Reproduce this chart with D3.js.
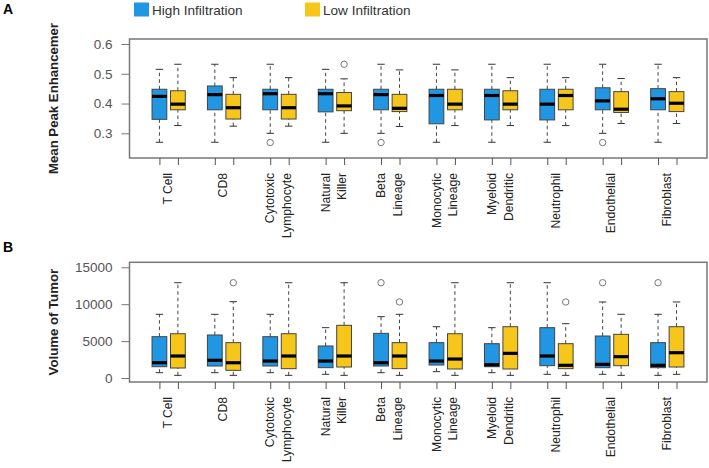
<!DOCTYPE html>
<html>
<head>
<meta charset="utf-8">
<script src="https://cdn.jsdelivr.net/npm/d3@7"></script>
<style>
  body { margin: 0; background: #fff; }
  text { font-family: "Liberation Sans", Arial, sans-serif; }
</style>
</head>
<body>
<div class="container"></div>
<script>
// data: [lower whisker, q1, median, q3, upper whisker]
const groups = ['T Cell', 'CD8', 'Cytotoxic\nLymphocyte', 'Natural\nKiller', 'Beta\nLineage',
                'Monocytic\nLineage', 'Myeloid\nDendritic', 'Neutrophil', 'Endothelial', 'Fibroblast'];
const seriesNames = ['High Infiltration', 'Low Infiltration'];

const enhancerHigh = [
  [0.270, 0.347, 0.424, 0.448, 0.515],
  [0.270, 0.379, 0.430, 0.459, 0.532],
  [0.300, 0.379, 0.433, 0.448, 0.532],
  [0.270, 0.372, 0.433, 0.448, 0.515],
  [0.300, 0.379, 0.430, 0.448, 0.532],
  [0.270, 0.332, 0.427, 0.448, 0.532],
  [0.270, 0.345, 0.427, 0.448, 0.532],
  [0.270, 0.345, 0.398, 0.448, 0.532],
  [0.300, 0.379, 0.409, 0.453, 0.532],
  [0.270, 0.379, 0.416, 0.450, 0.532]
];
const enhancerHighOut = [[], [], [0.269], [], [0.269], [], [], [], [0.269], []];
const enhancerLow = [
  [0.326, 0.379, 0.398, 0.443, 0.532],
  [0.324, 0.348, 0.386, 0.431, 0.487],
  [0.324, 0.348, 0.386, 0.431, 0.487],
  [0.300, 0.376, 0.392, 0.437, 0.483],
  [0.323, 0.373, 0.384, 0.431, 0.513],
  [0.326, 0.379, 0.398, 0.448, 0.513],
  [0.326, 0.379, 0.398, 0.443, 0.487],
  [0.326, 0.379, 0.427, 0.448, 0.487],
  [0.333, 0.370, 0.381, 0.440, 0.484],
  [0.333, 0.373, 0.401, 0.440, 0.487]
];
const enhancerLowOut = [[], [], [], [0.532], [], [], [], [], [], []];

const tumorHigh = [
  [720, 1530, 2070, 5600, 8630],
  [720, 1625, 2400, 5830, 8630],
  [720, 1625, 2300, 5600, 8630],
  [500, 1400, 2300, 4340, 6820],
  [720, 1625, 2070, 6050, 8310],
  [860, 1760, 2300, 4790, 6950],
  [720, 1530, 1800, 4650, 6820],
  [500, 1670, 2980, 6820, 12910],
  [500, 1400, 1850, 5690, 10300],
  [360, 1400, 1720, 4790, 8630]
];
const tumorHighOut = [[], [], [], [], [12910], [], [], [], [12910], [12910]];
const tumorLow = [
  [360, 1355, 2980, 6000, 12910],
  [360, 1040, 2070, 4790, 10340],
  [360, 1265, 2980, 6000, 12910],
  [360, 1490, 2980, 7140, 12910],
  [360, 1265, 2980, 4790, 8630],
  [360, 1220, 2570, 6000, 12910],
  [360, 1220, 3340, 6950, 12910],
  [360, 1265, 1720, 4650, 7360],
  [360, 1670, 2890, 5920, 8630],
  [500, 1490, 3430, 6950, 10300]
];
const tumorLowOut = [[], [12910], [], [], [10300], [], [], [10300], [], []];

const enhancerTicks = [0.3, 0.4, 0.5, 0.6];
const tumorTicks = [0, 5000, 10000, 15000];

// initial setup
const w = 709;
const h = 468;
const colors = ['#2196e2', '#f6c71a'];
const [plotLeft, plotRight] = [129.5, 707];

const svg = d3.select('.container')
              .append('svg')
              .attr('width', w)
              .attr('height', h);

// box positions: high at 3i+1, low at 3i+2
const x = d3.scaleLinear()
            .domain([-0.62, 30.65])
            .range([plotLeft, plotRight]);
const halfBox = 0.4;

const drawPanel = (cfg) => {
    const y = d3.scaleLinear()
                .domain(cfg.domain)
                .range([cfg.bottom, cfg.top]);
    const g = svg.append('g');

    // boxes
    const boxes = [];
    groups.forEach((name, i) => {
        boxes.push({pos: 3 * i + 1, s: cfg.high[i], out: cfg.highOut[i], c: colors[0]});
        boxes.push({pos: 3 * i + 2, s: cfg.low[i], out: cfg.lowOut[i], c: colors[1]});
    });

    const b = g.selectAll('g.box')
               .data(boxes)
               .enter()
               .append('g')
               .attr('class', 'box');

    // dashed whiskers
    b.append('line')
     .attr('x1', d => x(d.pos)).attr('x2', d => x(d.pos))
     .attr('y1', d => y(d.s[0])).attr('y2', d => y(d.s[1]))
     .attr('stroke', '#444').attr('stroke-dasharray', '3.5,3');
    b.append('line')
     .attr('x1', d => x(d.pos)).attr('x2', d => x(d.pos))
     .attr('y1', d => y(d.s[3])).attr('y2', d => y(d.s[4]))
     .attr('stroke', '#444').attr('stroke-dasharray', '3.5,3');
    // caps
    [0, 4].forEach(k => {
        b.append('line')
         .attr('x1', d => x(d.pos - halfBox / 2)).attr('x2', d => x(d.pos + halfBox / 2))
         .attr('y1', d => y(d.s[k])).attr('y2', d => y(d.s[k]))
         .attr('stroke', '#333');
    });
    b.append('rect')
     .attr('x', d => x(d.pos - halfBox))
     .attr('width', d => x(d.pos + halfBox) - x(d.pos - halfBox))
     .attr('y', d => y(d.s[3]))
     .attr('height', d => y(d.s[1]) - y(d.s[3]))
     .attr('fill', d => d.c)
     .attr('stroke', '#444');
    b.append('line')
     .attr('x1', d => x(d.pos - halfBox)).attr('x2', d => x(d.pos + halfBox))
     .attr('y1', d => y(d.s[2])).attr('y2', d => y(d.s[2]))
     .attr('stroke', '#000').attr('stroke-width', 3.2);
    b.selectAll('circle')
     .data(d => d.out.map(v => ({pos: d.pos, v})))
     .enter()
     .append('circle')
     .attr('cx', d => x(d.pos))
     .attr('cy', d => y(d.v))
     .attr('r', 3.2)
     .attr('fill', 'none')
     .attr('stroke', '#777');

    // frame
    g.append('rect')
     .attr('x', plotLeft).attr('y', cfg.top)
     .attr('width', plotRight - plotLeft).attr('height', cfg.bottom - cfg.top)
     .attr('fill', 'none').attr('stroke', '#777').attr('stroke-width', 1.5);

    // axis
    const yAxis = d3.axisLeft(y)
                    .tickValues(cfg.ticks)
                    .tickFormat(cfg.fmt)
                    .tickSize(8)
                    .tickPadding(9);
    const yGroup = g.append('g')
                    .attr('transform', `translate(${plotLeft}, 0)`)
                    .call(yAxis);
    yGroup.select('.domain').remove();
    yGroup.selectAll('line').attr('stroke', '#777');
    yGroup.selectAll('text')
          .attr('font-size', 13.5)
          .attr('font-family', '"Liberation Sans", Arial, sans-serif')
          .attr('fill', '#555');

    const xAxis = d3.axisBottom(x)
                    .tickValues(boxes.map(d => d.pos))
                    .tickSize(7)
                    .tickFormat('');
    const xGroup = g.append('g')
                    .attr('transform', `translate(0, ${cfg.bottom})`)
                    .call(xAxis);
    xGroup.select('.domain').remove();
    xGroup.selectAll('line').attr('stroke', '#555');

    // category labels, rotated
    const labels = [];
    groups.forEach((name, i) => {
        const lines = name.split('\n');
        lines.forEach((ln, j) => {
            const off = lines.length === 1 ? 0 : (j === 0 ? -0.45 : 0.45);
            labels.push({pos: 3 * i + 1.5 + off, text: ln});
        });
    });
    g.selectAll('text.cat')
     .data(labels)
     .enter()
     .append('text')
     .attr('class', 'cat')
     .attr('transform', 'rotate(-90)')
     .attr('x', -(cfg.bottom + 15))
     .attr('y', d => x(d.pos) - 1)
     .attr('dy', '0.35em')
     .attr('text-anchor', 'end')
     .attr('font-size', 12.2)
     .attr('fill', '#222')
     .text(d => d.text);

    // y title
    g.append('text')
     .attr('transform', 'rotate(-90)')
     .attr('x', -(cfg.top + cfg.bottom) / 2)
     .attr('y', 53)
     .attr('text-anchor', 'middle')
     .attr('dy', '0.35em')
     .attr('font-size', 13.2)
     .attr('font-weight', 'bold')
     .attr('fill', '#222')
     .text(cfg.title);

    // panel letter
    g.append('text')
     .attr('x', 3).attr('y', cfg.letterY)
     .attr('font-size', 14)
     .attr('font-weight', 'bold')
     .text(cfg.letter);
};

drawPanel({
    letter: 'A', letterY: 14,
    title: 'Mean Peak Enhancemer',
    top: 39, bottom: 158,
    domain: [0.2171, 0.6168],
    ticks: enhancerTicks,
    fmt: d3.format('.1f'),
    high: enhancerHigh, highOut: enhancerHighOut,
    low: enhancerLow, lowOut: enhancerLowOut
});

drawPanel({
    letter: 'B', letterY: 252,
    title: 'Volume of Tumor',
    top: 262.3, bottom: 382,
    domain: [-541, 15677],
    ticks: tumorTicks,
    fmt: d3.format('d'),
    high: tumorHigh, highOut: tumorHighOut,
    low: tumorLow, lowOut: tumorLowOut
});

// legend
const legend = svg.append('g');
const legendX = [134, 305];
seriesNames.forEach((name, i) => {
    legend.append('rect')
          .attr('x', legendX[i]).attr('y', 2.5)
          .attr('width', 15).attr('height', 14)
          .attr('fill', colors[i]);
    legend.append('text')
          .attr('x', legendX[i] + 18).attr('y', 14.5)
          .attr('font-size', 13.6)
          .attr('fill', '#333')
          .text(name);
});
</script>
</body>
</html>
